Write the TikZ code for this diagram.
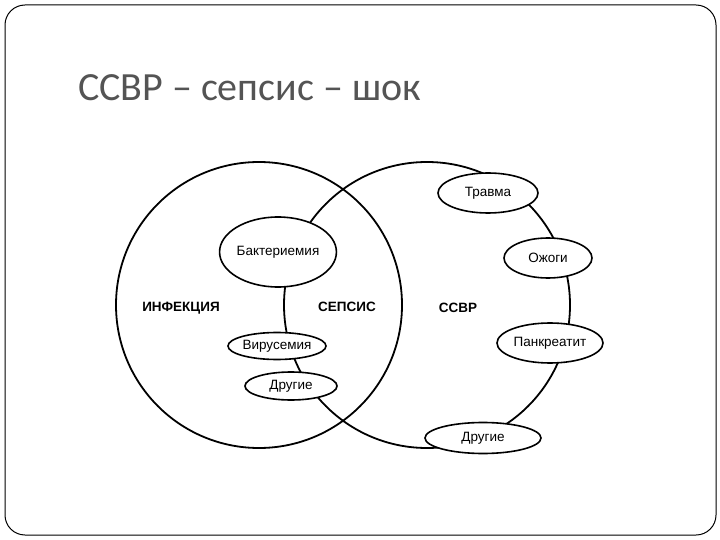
\documentclass[tikz,border=0pt]{standalone}
\usepackage{fontspec}
\setmainfont{Liberation Sans}
\newfontfamily\titlefont{Carlito}
\usetikzlibrary{shapes.geometric}
\begin{document}
\begin{tikzpicture}[x=1pt,y=-1pt,
  circ/.style={line width=1.8pt},
  oval/.style={ellipse,draw,line width=1.6pt,fill=white,inner sep=0pt,font=\fontsize{13.5}{15}\selectfont},
  lbl/.style={font=\bfseries\fontsize{13.5}{15}\selectfont}]
\useasboundingbox (0,0) rectangle (720,540);
\draw[line width=1pt,rounded corners=20pt] (5,5) rectangle (716,535);
\node[anchor=base west,inner sep=0pt,text=black!67,font=\titlefont\fontsize{40}{44}\selectfont] (title) at (78,101) {ССВР – сепсис – шок};
% circles
\node[circle,draw,circ,minimum size=286pt,inner sep=0pt] (inf) at (259,305) {};
\node[circle,draw,circ,minimum size=286pt,inner sep=0pt] (ssvr) at (427,305) {};
% labels
\node[lbl] (linf) at (181,308) {ИНФЕКЦИЯ};
\node[lbl] (lsep) at (347,307) {СЕПСИС};
\node[lbl] (lssvr) at (458,308) {ССВР};
% ellipses
\node[oval,minimum width=116pt,minimum height=70pt] (bak) at (278,252) {Бактериемия};
\node[oval,minimum width=98pt,minimum height=27pt] (vir) at (277,346) {Вирусемия};
\node[oval,minimum width=92pt,minimum height=28pt] (dr1) at (291,386) {Другие};
\node[oval,minimum width=100pt,minimum height=40pt] (tr) at (488,193) {Травма};
\node[oval,minimum width=88pt,minimum height=40pt] (oz) at (548,258) {Ожоги};
\node[oval,minimum width=106pt,minimum height=40pt] (pan) at (550,343) {Панкреатит};
\node[oval,minimum width=116pt,minimum height=31pt] (dr2) at (483,438) {Другие};
\end{tikzpicture}
\end{document}
